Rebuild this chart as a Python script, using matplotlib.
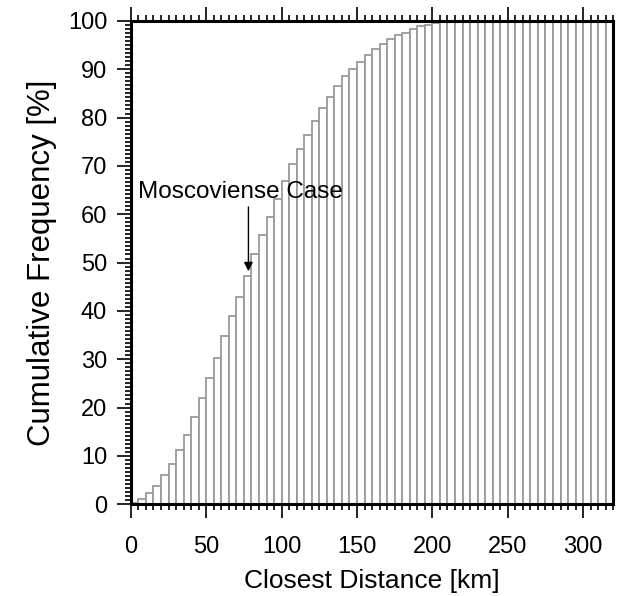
import matplotlib
matplotlib.use('Agg')
import matplotlib.pyplot as plt
import numpy as np
from matplotlib.ticker import MultipleLocator

plt.rcParams['font.family'] = ['Liberation Sans', 'DejaVu Sans']

# bin left edges [km], 5 km wide bins
bin_width = 5
bin_edges = np.arange(0, 320, bin_width)

# cumulative frequency [%]
cum_freq = [0.3, 1.0, 2.4, 3.8, 6.1, 8.4, 11.2, 14.4, 18.1, 21.9,
            26.1, 30.2, 34.8, 38.9, 42.9, 47.3, 51.7, 55.8, 59.5, 63.1,
            66.9, 70.4, 73.5, 76.3, 79.2, 81.9, 84.3, 86.5, 88.5, 90.0,
            91.4, 93.0, 94.2, 95.3, 96.2, 97.0, 97.5, 98.3, 98.9, 99.2,
            99.5, 99.7, 99.9] + [100.0] * 21

case_x = 78
case_y = 48.2
case_label = 'Moscoviense Case'

fig = plt.figure(figsize=(6.29, 5.96), dpi=100)
ax = fig.add_axes([0.208, 0.154, 0.767, 0.811])

ax.bar(bin_edges, cum_freq, width=bin_width, align='edge',
       color='white', edgecolor='#9a9a9a', lw=1.3, zorder=1)

ax.annotate('', xy=(case_x, case_y), xytext=(case_x, 61.5),
            arrowprops=dict(arrowstyle='-|>', color='black', lw=1,
                            mutation_scale=13, shrinkA=0, shrinkB=0))
ax.text(4.7, 64.6, case_label, fontsize=17.5, va='center', ha='left')

ax.set_xlim(0, 320)
ax.set_ylim(0, 100)
ax.xaxis.set_major_locator(MultipleLocator(50))
ax.xaxis.set_minor_locator(MultipleLocator(5))
ax.yaxis.set_major_locator(MultipleLocator(10))
ax.yaxis.set_minor_locator(MultipleLocator(10 / 12))

ax.tick_params(which='both', direction='out', top=True, right=False,
               width=1.2, labelsize=17)
ax.tick_params(which='major', length=10)
ax.tick_params(which='minor', length=4.5)
ax.tick_params(axis='x', which='major', pad=13)
ax.tick_params(axis='y', which='major', pad=7)

for s in ax.spines.values():
    s.set_linewidth(2.2)
    s.set_zorder(3)

ax.set_xlabel('Closest Distance [km]', fontsize=19, labelpad=8)
ax.set_ylabel('Cumulative Frequency [%]', fontsize=22.5, labelpad=8)

fig.savefig('out.png', dpi=100)
